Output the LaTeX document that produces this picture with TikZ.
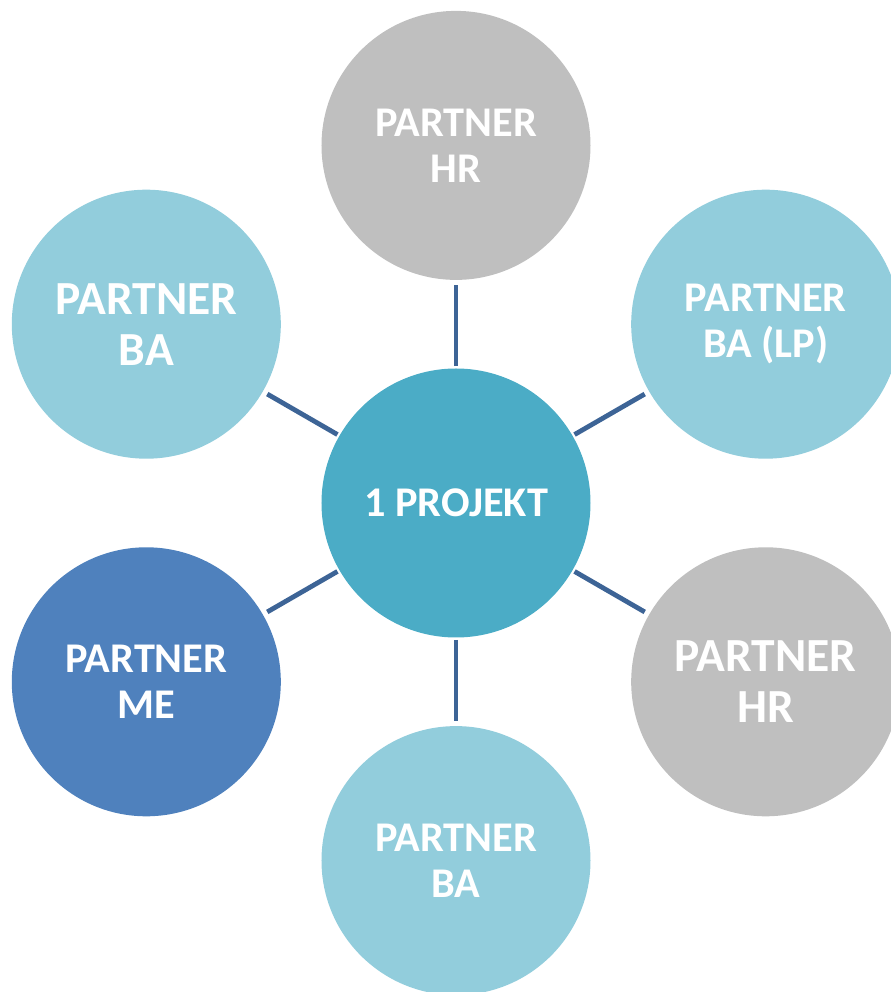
\documentclass[tikz,border=0pt]{standalone}
\usepackage{fontspec}
\setmainfont{Carlito}
\usepackage{xcolor}
\usepackage{tikz}
\definecolor{aqualight}{HTML}{92CDDC}
\definecolor{aquamid}{HTML}{4BACC6}
\definecolor{greylight}{HTML}{BFBFBF}
\definecolor{bluemid}{HTML}{4F81BD}
\definecolor{linkblue}{HTML}{3D6496}

\begin{document}
\begin{tikzpicture}[
    part/.style={shape=circle, minimum size=6.725cm, inner sep=0pt, outer sep=0pt,
      align=center, text=white, font=\fontsize{30.1}{32.7}\selectfont\bfseries},
    bigpart/.style={part, font=\fontsize{33.8}{36.3}\selectfont\bfseries},
    link/.style={line width=0.12cm, color=linkblue, shorten <=0.06cm, shorten >=0.13cm}]
    \useasboundingbox (-11.4,-12.225) rectangle (10.85,12.575);

    \node[part, fill=aquamid] (projekt) at (0,0) {1 PROJEKT};

    \node[part, fill=greylight] (hrtop) at (90:8.94) {PARTNER\\HR};
    \node[part, fill=aqualight] (balp) at (30:8.94) {PARTNER\\BA (LP)};
    \node[bigpart, fill=greylight] (hrright) at (-30:8.94) {PARTNER\\HR};
    \node[part, fill=aqualight] (babottom) at (-90:8.94) {PARTNER\\BA};
    \node[part, fill=bluemid] (me) at (210:8.94) {PARTNER\\ME};
    \node[bigpart, fill=aqualight] (baleft) at (150:8.94) {PARTNER\\BA};

    \draw[link] (projekt) -- (hrtop);
    \draw[link] (projekt) -- (balp);
    \draw[link] (projekt) -- (hrright);
    \draw[link] (projekt) -- (babottom);
    \draw[link] (projekt) -- (me);
    \draw[link] (projekt) -- (baleft);
  \end{tikzpicture}
\end{document}
